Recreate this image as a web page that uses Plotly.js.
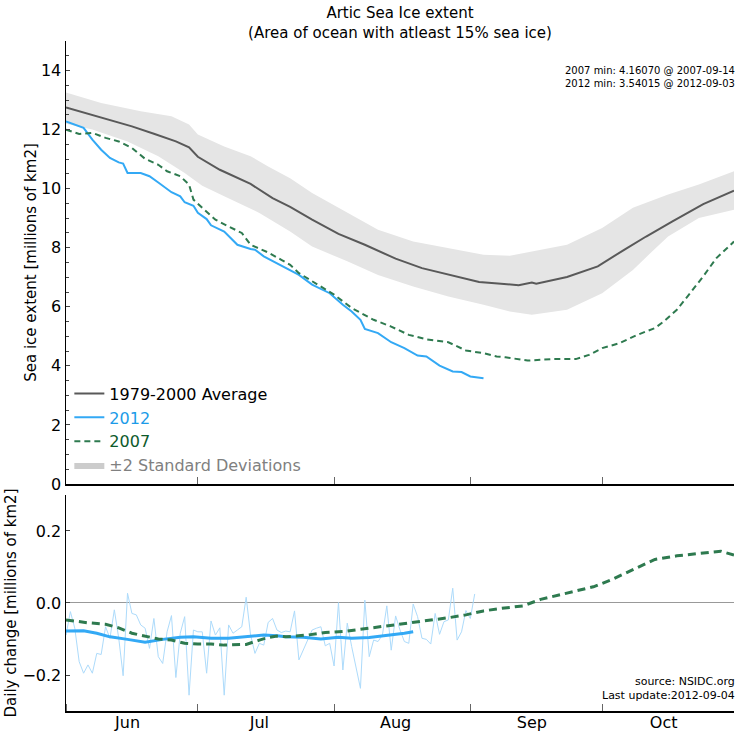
<!DOCTYPE html>
<html>
<head>
<meta charset="utf-8">
<script src="https://cdn.plot.ly/plotly-3.0.1.min.js"></script>
<style>
  html, body { margin: 0; padding: 0; background: #fff; }
  #chart { width: 741px; height: 737px; }
</style>
</head>
<body>
<div id="chart"></div>
<script>
// Arctic sea ice extent, June-October, with daily change panel below.
// Dates are month-day strings, all drawn against one reference year.
const YEAR = "2012";

// x axis: month boundaries (tick marks) and mid-month labels
const monthStarts = ["06-01", "07-01", "08-01", "09-01", "10-01"];
const monthLabelDates = ["06-15", "07-15", "08-15", "09-15", "10-15"];
const monthLabels = ["Jun", "Jul", "Aug", "Sep", "Oct"];

// 1979-2000 average extent (millions of km2)
const avgDates = ["06-01", "06-05", "06-11", "06-16", "06-21", "06-26", "06-29", "07-01", "07-06", "07-13",
  "07-18", "07-22", "07-27", "08-02", "08-08", "08-15", "08-21", "08-29", "09-03", "09-08",
  "09-12", "09-15", "09-16", "09-23", "09-30", "10-06", "10-11", "10-17", "10-24", "10-31"];
const avgValues = [12.75, 12.58, 12.32, 12.11, 11.86, 11.60, 11.40, 11.08, 10.64, 10.16,
  9.68, 9.38, 8.95, 8.47, 8.10, 7.63, 7.31, 7.01, 6.84, 6.78,
  6.73, 6.82, 6.78, 7.01, 7.37, 7.93, 8.38, 8.89, 9.48, 9.93];

// +/-2 standard deviation band edges
const bandUpperDates = ["06-01", "06-09", "06-18", "06-25", "06-29", "07-01", "07-07", "07-13", "07-17", "07-22",
  "07-27", "08-04", "08-11", "08-19", "08-27", "09-04", "09-10", "09-15", "09-23", "10-01",
  "10-08", "10-16", "10-23", "10-31"];
const bandUpper = [13.26, 12.90, 12.62, 12.45, 12.17, 11.83, 11.43, 11.10, 10.75, 10.35,
  9.85, 9.18, 8.61, 8.21, 7.99, 7.76, 7.73, 7.87, 8.10, 8.67,
  9.35, 9.80, 10.14, 10.59];
const bandLowerDates = ["06-01", "06-07", "06-15", "06-22", "06-28", "07-02", "07-07", "07-15", "07-22", "07-27",
  "08-04", "08-11", "08-19", "08-27", "09-04", "09-10", "09-15", "09-23", "10-01", "10-08",
  "10-12", "10-16", "10-23", "10-31"];
const bandLower = [12.20, 12.00, 11.60, 11.10, 10.53, 10.10, 9.74, 9.18, 8.55, 8.04,
  7.54, 7.08, 6.69, 6.35, 6.07, 5.84, 5.73, 5.90, 6.46, 7.25,
  7.82, 8.38, 9.01, 9.29];

// 2012 extent
const ext2012Dates = ["06-01", "06-03", "06-05", "06-07", "06-09", "06-11", "06-13", "06-14", "06-15", "06-18",
  "06-20", "06-22", "06-25", "06-27", "06-28", "06-30", "07-01", "07-03", "07-04", "07-07",
  "07-09", "07-10", "07-13", "07-14", "07-16", "07-19", "07-22", "07-24", "07-27", "07-31",
  "08-03", "08-05", "08-07", "08-08", "08-11", "08-14", "08-17", "08-20", "08-22", "08-25",
  "08-28", "08-30", "09-01", "09-04"];
const ext2012 = [12.28, 12.17, 12.06, 11.66, 11.32, 11.04, 10.89, 10.85, 10.53, 10.53,
  10.42, 10.21, 9.88, 9.74, 9.54, 9.42, 9.18, 8.97, 8.76, 8.55,
  8.27, 8.10, 7.96, 7.93, 7.71, 7.48, 7.25, 7.08, 6.75, 6.46,
  6.07, 5.84, 5.56, 5.25, 5.11, 4.80, 4.60, 4.35, 4.32, 4.01,
  3.81, 3.79, 3.64, 3.58];

// 2007 extent
const ext2007Dates = ["06-01", "06-04", "06-07", "06-10", "06-13", "06-16", "06-19", "06-22", "06-24", "06-27",
  "06-29", "06-30", "07-02", "07-05", "07-08", "07-11", "07-13", "07-17", "07-20", "07-22",
  "07-24", "07-29", "08-01", "08-05", "08-10", "08-14", "08-18", "08-22", "08-27", "08-31",
  "09-04", "09-07", "09-09", "09-14", "09-20", "09-25", "09-28", "10-01", "10-05", "10-09",
  "10-13", "10-15", "10-18", "10-21", "10-24", "10-27", "10-31"];
const ext2007 = [12.00, 11.85, 11.89, 11.72, 11.60, 11.38, 11.01, 10.81, 10.59, 10.42,
  10.14, 9.63, 9.35, 8.95, 8.72, 8.50, 8.10, 7.84, 7.59, 7.42,
  7.14, 6.69, 6.41, 5.96, 5.56, 5.33, 5.05, 4.90, 4.80, 4.52,
  4.43, 4.32, 4.29, 4.18, 4.23, 4.23, 4.37, 4.60, 4.77, 5.05,
  5.28, 5.50, 5.90, 6.46, 7.03, 7.65, 8.21];

// 2012 daily change, one value per day from May 31
const dailyStart = "05-31";
const daily2012 = [-0.033, -0.089, -0.024, -0.070, -0.163, -0.195, -0.172, -0.195, -0.140, -0.143,
  -0.066, -0.098, -0.019, -0.098, -0.202, 0.027, -0.029, -0.033, -0.061, -0.070,
  -0.126, -0.043, -0.149, -0.168, -0.080, -0.035, -0.207, -0.084, -0.038, -0.256,
  -0.075, -0.080, -0.080, -0.195, -0.050, -0.089, -0.069, -0.256, -0.061, -0.084,
  -0.075, -0.066, 0.016, -0.089, -0.140, -0.112, -0.117, -0.054, -0.043, -0.075,
  -0.082, -0.078, -0.080, -0.022, -0.158, -0.131, -0.103, -0.075, -0.070, -0.066,
  -0.119, -0.112, -0.175, 0.001, -0.186, -0.056, -0.121, -0.181, -0.237, 0.008,
  -0.149, -0.103, -0.107, -0.089, -0.008, -0.131, -0.036, -0.075, -0.107, -0.112,
  -0.003, -0.038, -0.098, -0.101, -0.114, -0.029, -0.087, -0.052, -0.047, 0.041,
  -0.103, -0.080, -0.021, -0.043, 0.025];

// smoothed daily change
const smooth2012Dates = ["06-01", "06-05", "06-08", "06-11", "06-15", "06-19", "06-23", "06-27", "06-30", "07-04",
  "07-08", "07-12", "07-16", "07-19", "07-21", "07-25", "07-29", "08-02", "08-05", "08-09",
  "08-13", "08-17", "08-19"];
const smooth2012 = [-0.078, -0.077, -0.084, -0.094, -0.101, -0.109, -0.101, -0.095, -0.094, -0.098,
  -0.098, -0.094, -0.089, -0.091, -0.094, -0.095, -0.100, -0.095, -0.098, -0.096,
  -0.091, -0.084, -0.080];
const smooth2007Dates = ["06-01", "06-06", "06-10", "06-13", "06-16", "06-19", "06-22", "06-25", "06-28", "07-01",
  "07-04", "07-07", "07-10", "07-12", "07-15", "07-17", "07-19", "07-21", "07-26", "07-30",
  "08-04", "08-09", "08-13", "08-18", "08-22", "08-27", "08-31", "09-04", "09-08", "09-13",
  "09-17", "09-23", "09-29", "10-03", "10-08", "10-13", "10-18", "10-23", "10-28", "10-31"];
const smooth2007 = [-0.047, -0.055, -0.059, -0.069, -0.084, -0.092, -0.100, -0.103, -0.112, -0.114,
  -0.114, -0.117, -0.117, -0.115, -0.103, -0.096, -0.092, -0.094, -0.089, -0.082,
  -0.078, -0.070, -0.063, -0.056, -0.049, -0.041, -0.033, -0.022, -0.015, -0.008,
  0.010, 0.027, 0.045, 0.064, 0.092, 0.121, 0.131, 0.138, 0.144, 0.133];

const AVG_COLOR = "#595959";
const BLUE = "#33a9f5";
const BLUE_TEXT = "#1c9be8";
const GREEN = "#2e7a4f";
const GREEN_TEXT = "#0d5a2c";
const BAND_COLOR = "#e5e5e5";
const BAND_KEY = "#cccccc";
const FONT = "DejaVu Sans, sans-serif";

const toDate = (md) => `${YEAR}-${md}`;
function dailyDates(start, n) {
  const out = [];
  const d = new Date(`${YEAR}-${start}T00:00:00Z`);
  for (let i = 0; i < n; i++) {
    out.push(d.toISOString().slice(0, 10));
    d.setUTCDate(d.getUTCDate() + 1);
  }
  return out;
}

const bandX = bandUpperDates.map(toDate).concat(bandLowerDates.map(toDate).reverse());
const bandY = bandUpper.concat(bandLower.slice().reverse());

const data = [
  {
    x: bandX, y: bandY, type: "scatter", mode: "lines", fill: "toself",
    fillcolor: BAND_COLOR, line: { width: 0 }, showlegend: false, hoverinfo: "skip",
  },
  {
    x: avgDates.map(toDate), y: avgValues, type: "scatter", mode: "lines",
    name: "1979-2000 Average", line: { color: AVG_COLOR, width: 2 },
  },
  {
    x: ext2012Dates.map(toDate), y: ext2012, type: "scatter", mode: "lines",
    name: `<span style="color:${BLUE_TEXT}">2012</span>`, line: { color: BLUE, width: 2 },
  },
  {
    x: ext2007Dates.map(toDate), y: ext2007, type: "scatter", mode: "lines",
    name: `<span style="color:${GREEN_TEXT}">2007</span>`,
    line: { color: GREEN, width: 2, dash: "6px,4px" },
  },
  {
    // legend key only
    x: [null], y: [null], type: "scatter", mode: "lines", fill: "toself",
    fillcolor: BAND_KEY, line: { width: 0, color: BAND_KEY },
    name: '<span style="color:#808080">±2 Standard Deviations</span>',
  },
  {
    x: dailyDates(dailyStart, daily2012.length), y: daily2012, type: "scatter", mode: "lines",
    xaxis: "x2", yaxis: "y2", showlegend: false, line: { color: "#addbfb", width: 1 },
  },
  {
    x: smooth2012Dates.map(toDate), y: smooth2012, type: "scatter", mode: "lines",
    xaxis: "x2", yaxis: "y2", showlegend: false, line: { color: BLUE, width: 3 },
  },
  {
    x: smooth2007Dates.map(toDate), y: smooth2007, type: "scatter", mode: "lines",
    xaxis: "x2", yaxis: "y2", showlegend: false, line: { color: GREEN, width: 3, dash: "8px,5px" },
  },
];

const xCommon = {
  type: "date",
  range: [toDate("06-01"), toDate("10-31")],
  showline: true,
  linecolor: "#000",
  linewidth: 1.5,
  showgrid: false,
  zeroline: false,
};

const monthTicks = {
  tickmode: "array",
  tickvals: monthStarts.map(toDate),
  ticks: "inside",
  ticklen: 7,
  tickcolor: "#666",
  showgrid: false,
};

const yCommon = {
  ticks: "inside",
  ticklen: 4,
  tickcolor: "#444",
  showline: true,
  linecolor: "#000",
  linewidth: 1.5,
  showgrid: false,
  tickfont: { size: 16, color: "#000" },
};

const layout = {
  width: 741,
  height: 737,
  margin: { l: 66, r: 7, t: 41, b: 26 },
  paper_bgcolor: "#fff",
  plot_bgcolor: "#fff",
  font: { family: FONT, color: "#000", size: 16 },
  showlegend: true,
  title: {
    text: "Artic Sea Ice extent<br>(Area of ocean with atleast 15% sea ice)",
    font: { size: 15, color: "#000" },
    x: 0.5, xref: "paper", xanchor: "center",
    y: 0.975, yref: "container", yanchor: "top",
  },
  legend: {
    x: 0.005, xanchor: "left", y: 0.499, yanchor: "top",
    bgcolor: "rgba(0,0,0,0)", font: { size: 16, color: "#000" },
    itemwidth: 30, tracegroupgap: 0,
  },
  xaxis: {
    ...xCommon, ...monthTicks, anchor: "y", showticklabels: false,
  },
  xaxis2: {
    ...xCommon, anchor: "y2", matches: "x", showticklabels: true,
    tickmode: "array",
    tickvals: monthLabelDates.map(toDate),
    ticktext: monthLabels,
    ticks: "",
    ticklabelstandoff: -4,
    tickfont: { size: 16, color: "#000" },
    minor: { ...monthTicks },
  },
  yaxis: {
    ...yCommon,
    domain: [0.3388, 1],
    range: [0, 15],
    tick0: 0,
    dtick: 2,
    zeroline: false,
    minor: { dtick: 0.5, ticks: "inside", ticklen: 3, tickcolor: "#444" },
    title: { text: "Sea ice extent [millions of km2]", font: { size: 15 }, standoff: 0 },
  },
  yaxis2: {
    ...yCommon,
    domain: [0, 0.3224],
    range: [-0.3, 0.3],
    tickvals: [-0.2, 0, 0.2],
    tickformat: ".1f",
    zeroline: true,
    zerolinecolor: "#999",
    zerolinewidth: 1,
    title: { text: "Daily change [millions of km2]", font: { size: 15 }, standoff: 2 },
  },
  annotations: [
    { text: "2007 min: 4.16070 @ 2007-09-14<br>2012 min: 3.54015 @ 2012-09-03",
      xref: "paper", yref: "paper", x: 1, y: 0.947, xshift: 3,
      xanchor: "right", yanchor: "middle", align: "right", showarrow: false, font: { size: 10 } },
    { text: "source: NSIDC.org<br>Last update:2012-09-04",
      xref: "paper", yref: "paper", x: 1, y: 0.034, xshift: 3,
      xanchor: "right", yanchor: "middle", align: "right", showarrow: false, font: { size: 11 } },
  ],
};

Plotly.newPlot("chart", data, layout, { displayModeBar: false, staticPlot: true });
</script>
</body>
</html>
